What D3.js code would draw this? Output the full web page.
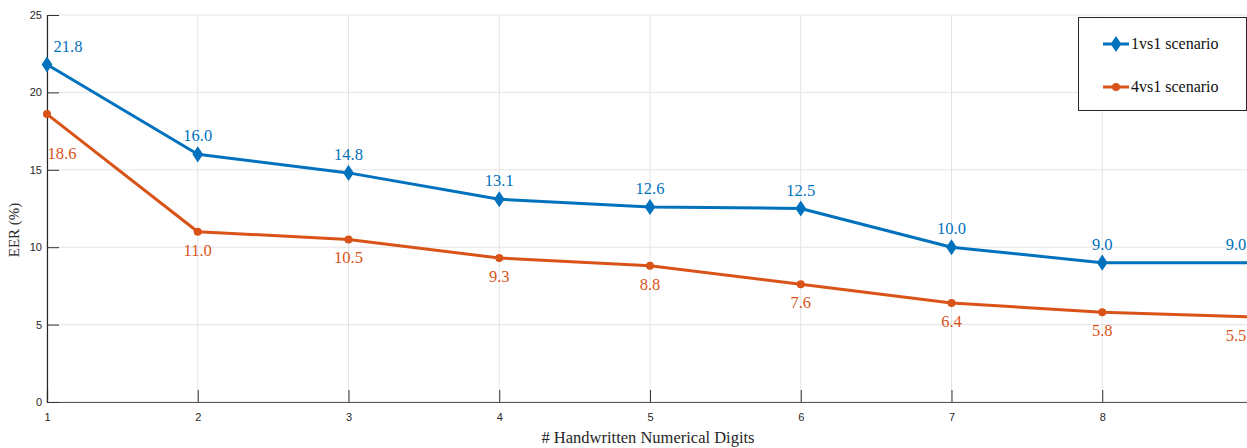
<!DOCTYPE html>
<html>
<head>
<meta charset="utf-8">
<script src="https://cdn.jsdelivr.net/npm/d3@7"></script>
<style>
  html, body { margin: 0; padding: 0; background: #fff; }
  svg { display: block; }
</style>
</head>
<body>
<svg id="chart" width="1247" height="448"></svg>
<script>
const digits = [1, 2, 3, 4, 5, 6, 7, 8, 9];
const eer1vs1 = [21.8, 16.0, 14.8, 13.1, 12.6, 12.5, 10.0, 9.0, 9.0];
const eer4vs1 = [18.6, 11.0, 10.5, 9.3, 8.8, 7.6, 6.4, 5.8, 5.5];
const seriesNames = ["1vs1 scenario", "4vs1 scenario"];
const xTicks = [1, 2, 3, 4, 5, 6, 7, 8];
const yTicks = [0, 5, 10, 15, 20, 25];
const xTitle = "# Handwritten Numerical Digits";
const yTitle = "EER (%)";

const blue = "#0072BD", orange = "#D95319";
const serif = "Liberation Serif, Times New Roman, serif";
const svg = d3.select("#chart");
const x = d3.scaleLinear().domain([1, 9]).range([47, 1253]);
const y = d3.scaleLinear().domain([0, 25]).range([402, 15]);

// gridlines
const g = svg.append("g");
g.selectAll(".vg").data(xTicks).enter().append("line")
  .attr("x1", d => x(d)).attr("x2", d => x(d)).attr("y1", y(0)).attr("y2", y(25))
  .attr("stroke", "#e3e3e3").attr("stroke-width", 1);
g.selectAll(".hg").data(yTicks).enter().append("line")
  .attr("x1", x(1)).attr("x2", 1247).attr("y1", d => y(d)).attr("y2", d => y(d))
  .attr("stroke", "#e3e3e3").attr("stroke-width", 1);

// axes
const xAxis = d3.axisBottom(x).tickValues(xTicks).tickSize(-12).tickPadding(16).tickFormat(d3.format("d"));
const yAxis = d3.axisLeft(y).tickValues(yTicks).tickSize(-12).tickPadding(17).tickFormat(d3.format("d"));
const xa = svg.append("g").attr("transform", `translate(0,${y(0)})`).call(xAxis);
const ya = svg.append("g").attr("transform", `translate(${x(1)},0)`).call(yAxis);
[xa, ya].forEach(a => {
  a.select(".domain").attr("stroke", "#262626").attr("stroke-width", 1.2);
  a.selectAll(".tick line").attr("stroke", "#333").attr("stroke-width", 1);
  a.selectAll(".tick text").attr("font-family", "Liberation Sans, Arial, sans-serif")
    .attr("font-size", 11).attr("fill", "#262626");
});
xa.select(".domain").attr("stroke", "#555");
ya.selectAll(".tick text").attr("dx", 12).attr("dy", "0.32em");
xa.selectAll(".tick text").attr("dy", "0.3em");

// titles
svg.append("text").attr("x", 648).attr("y", 443).attr("text-anchor", "middle")
  .attr("font-family", serif).attr("font-size", 16.5)
  .attr("fill", "#262626").text(xTitle);
svg.append("text").attr("transform", "translate(19,230) rotate(-90)").attr("text-anchor", "middle")
  .attr("font-family", serif).attr("font-size", 15)
  .attr("fill", "#262626").text(yTitle);

const line = d3.line().x((d, i) => x(digits[i])).y(d => y(d));

// series 4vs1
svg.append("path").datum(eer4vs1).attr("d", line).attr("fill", "none")
  .attr("stroke", orange).attr("stroke-width", 3).attr("stroke-linejoin", "round");
svg.selectAll(".m2").data(eer4vs1).enter().append("circle")
  .attr("cx", (d, i) => x(digits[i])).attr("cy", d => y(d)).attr("r", 4).attr("fill", orange);

// series 1vs1
svg.append("path").datum(eer1vs1).attr("d", line).attr("fill", "none")
  .attr("stroke", blue).attr("stroke-width", 3).attr("stroke-linejoin", "round");
const diamond = d3.symbol().type(d3.symbolDiamond).size(75);
svg.selectAll(".m1").data(eer1vs1).enter().append("path")
  .attr("d", diamond)
  .attr("transform", (d, i) => `translate(${x(digits[i])},${y(d)}) scale(1.15,1)`)
  .attr("fill", blue);

// data labels
const n = digits.length;
function lx(i) {
  if (i === 0) return x(digits[i]) + 18;
  if (i === n - 1) return x(digits[i]) - 17;
  return x(digits[i]);
}
svg.selectAll(".l1").data(eer1vs1).enter().append("text")
  .attr("x", (d, i) => lx(i) + (i === 0 ? 3 : 0)).attr("y", d => y(d) - 13)
  .attr("text-anchor", "middle").attr("font-family", serif)
  .attr("font-size", 16.5).attr("fill", blue).text(d => d.toFixed(1));
svg.selectAll(".l2").data(eer4vs1).enter().append("text")
  .attr("x", (d, i) => lx(i) - (i === 0 ? 3 : 0)).attr("y", (d, i) => y(d) + (i === 0 ? 45 : 24))
  .attr("text-anchor", "middle").attr("font-family", serif)
  .attr("font-size", 16.5).attr("fill", orange).text(d => d.toFixed(1));

// legend
const lg = svg.append("g");
lg.append("rect").attr("x", 1078.5).attr("y", 17.5).attr("width", 168).attr("height", 93)
  .attr("fill", "#fff").attr("stroke", "#262626").attr("stroke-width", 1);
const legY = [44, 87];
const colors = [blue, orange];
seriesNames.forEach((name, i) => {
  lg.append("line").attr("x1", 1103).attr("x2", 1129).attr("y1", legY[i]).attr("y2", legY[i])
    .attr("stroke", colors[i]).attr("stroke-width", 3);
  if (i === 0) {
    lg.append("path").attr("d", diamond).attr("transform", `translate(1116,${legY[i]}) scale(1.15,1)`).attr("fill", blue);
  } else {
    lg.append("circle").attr("cx", 1116).attr("cy", legY[i]).attr("r", 4).attr("fill", orange);
  }
  lg.append("text").attr("x", 1131).attr("y", legY[i] + 5).attr("font-family", serif)
    .attr("font-size", 16).attr("fill", "#111").text(name);
});
</script>
</body>
</html>
